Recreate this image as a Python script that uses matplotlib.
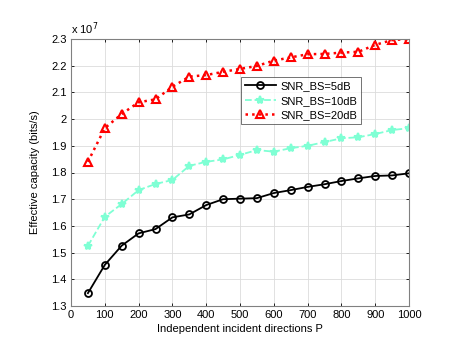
import matplotlib
matplotlib.use("Agg")
import matplotlib.pyplot as plt
import numpy as np

plt.rcParams['font.family'] = ['Liberation Sans', 'DejaVu Sans']

P = [50, 100, 150, 200, 250, 300, 350, 400, 450, 500,
     550, 600, 650, 700, 750, 800, 850, 900, 950, 1000]
snr5 = [1.348, 1.454, 1.526, 1.572, 1.588, 1.632, 1.643, 1.678, 1.700, 1.702,
        1.704, 1.723, 1.734, 1.746, 1.756, 1.768, 1.778, 1.787, 1.789, 1.797]
snr10 = [1.525, 1.634, 1.682, 1.734, 1.757, 1.772, 1.825, 1.840, 1.849, 1.866,
         1.884, 1.878, 1.891, 1.900, 1.914, 1.928, 1.932, 1.944, 1.959, 1.966]
snr20 = [1.840, 1.966, 2.019, 2.063, 2.074, 2.121, 2.159, 2.165, 2.177, 2.188,
         2.199, 2.219, 2.231, 2.243, 2.244, 2.249, 2.252, 2.278, 2.296, 2.300]
labels = ['SNR_BS=5dB', 'SNR_BS=10dB', 'SNR_BS=20dB']
xticks = [0, 100, 200, 300, 400, 500, 600, 700, 800, 900, 1000]
yticks = [1.3, 1.4, 1.5, 1.6, 1.7, 1.8, 1.9, 2.0, 2.1, 2.2, 2.3]
yticklabels = ['1.3', '1.4', '1.5', '1.6', '1.7', '1.8', '1.9', '2', '2.1', '2.2', '2.3']

fig = plt.figure(figsize=(4.63, 3.5), dpi=100)
ax = fig.add_axes([71/463, 44/350, 338/463, 267/350])

ax.plot(P, snr5, color='k', ls='-', lw=1.3, marker='o', ms=5, mfc='none', mew=1.3, label=labels[0])
ax.plot(P, snr10, color='#7FFFD4', ls='--', lw=1.3, marker='*', ms=6, mfc='#7FFFD4', mew=1.5, label=labels[1])
ax.plot(P, snr20, color='r', ls=':', lw=1.8, marker='^', ms=6, mfc='none', mew=1.5, label=labels[2])

ax.set_xlim(0, 1000)
ax.set_ylim(1.3, 2.3)
ax.set_xticks(xticks)
ax.set_yticks(yticks)
ax.set_yticklabels(yticklabels)
ax.tick_params(direction='in', length=2.5, width=0.6, labelsize=8, top=True, right=True, pad=3)
ax.grid(True, color='#dcdcdc', lw=0.6)
ax.set_axisbelow(True)
for s in ax.spines.values():
    s.set_color('#808080')
    s.set_linewidth(0.8)

ax.set_xlabel('Independent incident directions P', fontsize=8, labelpad=3)
ax.set_ylabel('Effective capacity (bits/s)', fontsize=8, labelpad=8)
ax.text(0.0, 1.008, r'x 10$^{7}$', transform=ax.transAxes, fontsize=8, ha='left', va='bottom')

leg = ax.legend(loc='upper left', bbox_to_anchor=(0.503, 0.856), fontsize=8,
                handlelength=2.8, frameon=True, fancybox=False, borderpad=0.35,
                labelspacing=0.4, handletextpad=0.4, borderaxespad=0)
leg.get_frame().set_edgecolor('#333333')
leg.get_frame().set_linewidth(0.6)

fig.savefig('out.png', dpi=100)
